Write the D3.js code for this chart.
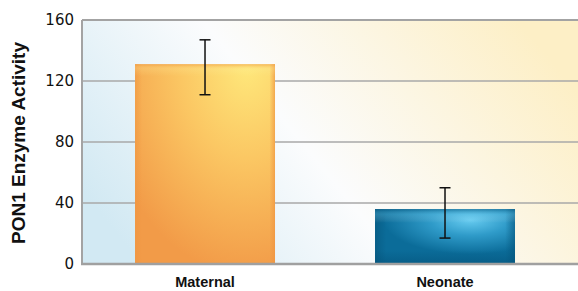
<!DOCTYPE html>
<html lang="en">
<head>
<meta charset="UTF-8">
<title>PON1 Enzyme Activity</title>
<script src="https://cdn.jsdelivr.net/npm/d3@7"></script>
<style>
  html, body { margin: 0; padding: 0; background: #fff; }
  svg { display: block; }
</style>
</head>
<body>
<div id="chart"></div>
<script>
  // chart data
  const categories = ['Maternal', 'Neonate'];
  const values = [131, 36];
  const errLow = [111, 17];
  const errHigh = [147, 50];
  const yTicks = [0, 40, 80, 120, 160];

  const width = 578, height = 291;
  const margin = { top: 20, right: 0, bottom: 27, left: 82 };

  const svg = d3.select('#chart').append('svg')
      .attr('width', width)
      .attr('height', height);

  const defs = svg.append('defs');

  function linear(id, dir, stops) {
    const g = defs.append('linearGradient').attr('id', id)
        .attr('x1', dir[0]).attr('y1', dir[1]).attr('x2', dir[2]).attr('y2', dir[3]);
    stops.forEach(s => g.append('stop')
        .attr('offset', s[0]).attr('stop-color', s[1]).attr('stop-opacity', s[2] == null ? 1 : s[2]));
  }
  function radial(id, c, r, stops) {
    const g = defs.append('radialGradient').attr('id', id)
        .attr('cx', c[0]).attr('cy', c[1]).attr('r', r);
    stops.forEach(s => g.append('stop')
        .attr('offset', s[0]).attr('stop-color', s[1]).attr('stop-opacity', s[2] == null ? 1 : s[2]));
  }

  // background: blue -> white -> yellow, slightly diagonal
  linear('bg', [0, 0.7, 1, 0.3], [[0, '#d2e9f3'], [0.45, '#fbfcfd'], [1, '#fdefc6']]);

  // orange bar
  radial('orange', [0.8, 0.0], 1.05, [[0, '#fee87b'], [0.45, '#fbc763'], [1, '#f29b48']]);
  // blue bar
  radial('blue', [0.68, 0.2], 0.62, [[0, '#66cbf0'], [0.45, '#2f9bc9'], [1, '#0b6c99']]);
  // bevel edges
  linear('edgeH_o', [0, 0, 1, 0], [[0, '#ef9440', 0.55], [0.05, '#ef9440', 0], [0.96, '#ef9440', 0], [1, '#ef9440', 0.7]]);
  linear('edgeV_o', [0, 0, 0, 1], [[0, '#f0993f', 0.6], [0.025, '#fff0a0', 0.2], [0.06, '#fff0a0', 0], [1, '#fff', 0]]);
  linear('edgeH_b', [0, 0, 1, 0], [[0, '#06557c', 0.6], [0.08, '#06557c', 0], [0.93, '#06557c', 0], [1, '#06557c', 0.6]]);
  linear('edgeV_b', [0, 0, 0, 1], [[0, '#06557c', 0.5], [0.1, '#7fd6f4', 0.25], [0.25, '#fff', 0], [0.75, '#04527a', 0], [1, '#04527a', 0.55]]);

  const x = d3.scaleBand()
      .domain(categories)
      .range([margin.left, width - margin.right])
      .paddingInner(0.4167)
      .paddingOuter(0.2417)
      .align(0.457);

  const y = d3.scaleLinear()
      .domain([0, 160])
      .range([height - margin.bottom, margin.top]);

  // plot background
  svg.append('rect')
      .attr('x', margin.left).attr('y', margin.top)
      .attr('width', width - margin.left - margin.right)
      .attr('height', y(0) - margin.top)
      .attr('fill', 'url(#bg)');

  // grid lines
  svg.append('g')
      .selectAll('line')
      .data(yTicks.filter(d => d > 0 && d < 160))
      .join('line')
      .attr('x1', margin.left).attr('x2', width)
      .attr('y1', d => y(d)).attr('y2', d => y(d))
      .attr('stroke', '#a9a9a9').attr('stroke-width', 1.3);

  // top border
  svg.append('line')
      .attr('x1', margin.left).attr('x2', width)
      .attr('y1', y(160)).attr('y2', y(160))
      .attr('stroke', '#a3a3a3').attr('stroke-width', 2);

  // bars
  const fills = [['orange', 'edgeH_o', 'edgeV_o'], ['blue', 'edgeH_b', 'edgeV_b']];
  const bars = svg.append('g');
  categories.forEach((c, i) => {
    fills[i].forEach(f => {
      bars.append('rect')
          .attr('x', x(c)).attr('y', y(values[i]))
          .attr('width', x.bandwidth())
          .attr('height', y(0) - y(values[i]))
          .attr('fill', `url(#${f})`);
    });
  });

  // error bars
  const eb = svg.append('g').attr('stroke', '#111').attr('stroke-width', 1.5);
  categories.forEach((c, i) => {
    const cx = x(c) + x.bandwidth() / 2;
    eb.append('line').attr('x1', cx).attr('x2', cx)
        .attr('y1', y(errLow[i])).attr('y2', y(errHigh[i]));
    eb.append('line').attr('x1', cx - 5.5).attr('x2', cx + 5.5)
        .attr('y1', y(errHigh[i])).attr('y2', y(errHigh[i]));
    eb.append('line').attr('x1', cx - 5.5).attr('x2', cx + 5.5)
        .attr('y1', y(errLow[i])).attr('y2', y(errLow[i]));
  });

  // axes lines
  svg.append('line')
      .attr('x1', margin.left).attr('x2', margin.left)
      .attr('y1', margin.top).attr('y2', y(0) + 1)
      .attr('stroke', '#a3a3a3').attr('stroke-width', 2);
  svg.append('line')
      .attr('x1', margin.left - 1).attr('x2', width)
      .attr('y1', y(0)).attr('y2', y(0))
      .attr('stroke', '#a0a0a0').attr('stroke-width', 2.5);

  // y axis labels
  const yAxis = d3.axisLeft(y).tickValues(yTicks).tickSize(0).tickPadding(8);
  svg.append('g')
      .attr('transform', `translate(${margin.left},0)`)
      .call(yAxis)
      .call(g => g.select('.domain').remove())
      .call(g => g.selectAll('text')
          .attr('font-family', 'DejaVu Sans, sans-serif')
          .attr('font-size', 15)
          .attr('fill', '#111'));

  // x axis labels
  const xAxis = d3.axisBottom(x).tickSize(0).tickPadding(13);
  svg.append('g')
      .attr('transform', `translate(0,${y(0)})`)
      .call(xAxis)
      .call(g => g.select('.domain').remove())
      .call(g => g.selectAll('text')
          .attr('font-family', 'Liberation Sans, Arial, sans-serif')
          .attr('font-weight', 'bold')
          .attr('font-size', 14.5)
          .attr('fill', '#111'));

  // y axis title
  svg.append('text')
      .attr('transform', `translate(25,143) rotate(-90)`)
      .attr('text-anchor', 'middle')
      .attr('font-family', 'Liberation Sans, Arial, sans-serif')
      .attr('font-weight', 'bold')
      .attr('font-size', 19)
      .attr('fill', '#111')
      .text('PON1 Enzyme Activity');
</script>
</body>
</html>
